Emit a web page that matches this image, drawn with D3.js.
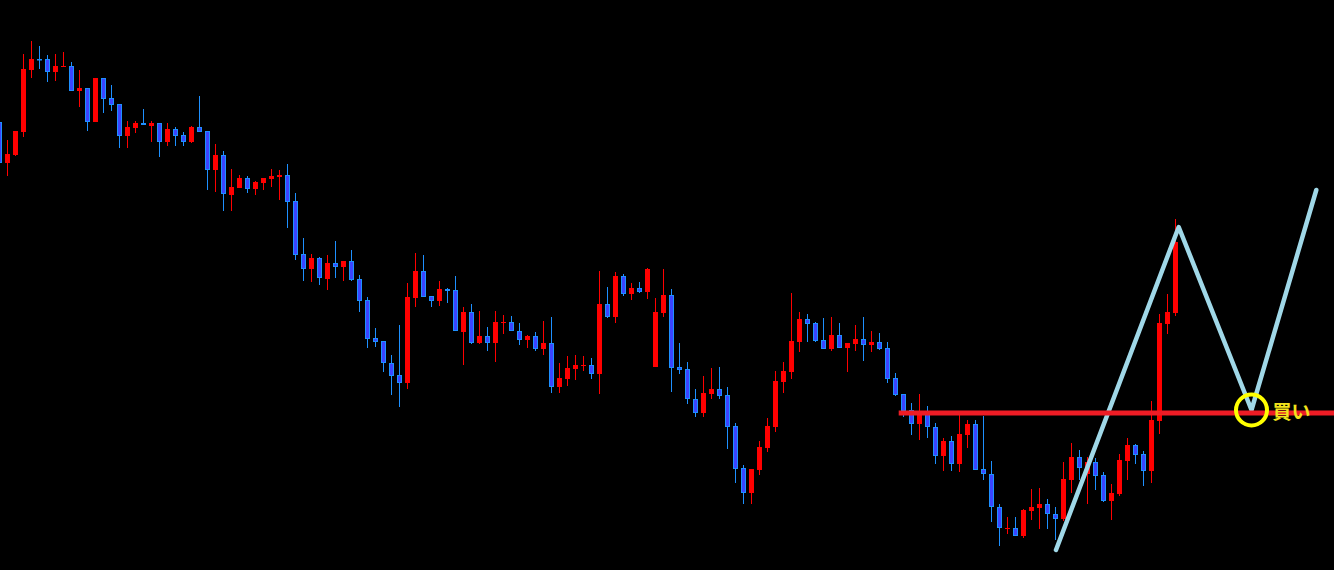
<!DOCTYPE html>
<html>
<head>
<meta charset="utf-8">
<script src="https://cdn.jsdelivr.net/npm/d3@7"></script>
<style>
  html, body { margin: 0; padding: 0; background: #000; overflow: hidden; }
</style>
</head>
<body>
<div id="chart"></div>
<script>
// OHLC per bar (price units)
var open = [115.98,115.57,115.65,115.88,116.50,116.61,116.61,116.48,116.53,116.54,
  116.29,116.32,115.98,116.42,116.22,116.16,115.84,115.92,115.97,115.94,
  115.97,115.78,115.91,115.85,115.78,115.93,115.89,115.50,115.65,115.25,
  115.32,115.42,115.31,115.37,115.41,115.43,115.45,115.19,114.66,114.51,
  114.62,114.41,114.57,114.53,114.59,114.41,114.20,113.82,113.79,113.57,
  113.45,113.37,114.22,114.49,114.24,114.19,114.31,114.30,113.88,114.08,
  113.77,113.84,113.77,113.97,113.98,113.89,113.80,113.84,113.71,113.77,
  113.33,113.41,113.51,113.54,113.55,113.46,114.16,114.03,114.44,114.26,
  114.32,114.28,113.53,114.07,114.25,113.53,113.51,113.21,113.07,113.26,
  113.31,113.25,112.94,112.52,112.27,112.50,112.72,112.93,113.38,113.48,
  113.78,114.01,113.97,113.80,113.71,113.85,113.72,113.76,113.81,113.75,
  113.78,113.72,113.42,113.26,113.10,112.96,113.07,112.93,112.64,112.79,
  112.56,112.85,112.96,112.51,112.46,112.13,111.91,111.92,111.84,112.09,
  112.12,112.16,112.06,112.01,112.40,112.63,112.46,112.58,112.45,112.19,
  112.26,112.59,112.75,112.66,112.49,112.99,113.96,114.07];
var high = [116.02,115.80,115.89,116.66,116.79,116.74,116.65,116.66,116.68,116.58,
  116.50,116.32,116.42,116.42,116.35,116.16,115.99,115.99,116.11,115.99,
  115.97,115.97,115.93,115.88,115.94,116.24,115.89,115.76,115.69,115.51,
  115.45,115.44,115.39,115.42,115.51,115.50,115.56,115.27,114.82,114.66,
  114.63,114.65,114.79,114.59,114.70,114.45,114.23,113.92,113.79,113.65,
  113.95,114.37,114.67,114.65,114.24,114.39,114.32,114.44,114.13,114.16,
  114.09,113.93,114.09,114.05,114.04,113.97,113.85,113.88,113.99,114.03,
  113.57,113.64,113.65,113.64,113.62,114.49,114.33,114.48,114.46,114.37,
  114.38,114.52,114.22,114.51,114.31,113.77,113.58,113.31,113.44,113.52,
  113.53,113.33,112.97,112.55,112.51,112.79,113.02,113.49,113.58,114.27,
  114.08,114.06,113.98,114.02,114.03,113.97,113.77,113.95,114.03,113.89,
  113.87,113.78,113.47,113.26,113.17,113.26,113.14,112.97,112.82,112.84,
  113.06,113.00,113.00,113.04,112.59,112.16,112.03,112.03,112.11,112.31,
  112.32,112.21,112.13,112.58,112.77,112.70,112.63,112.62,112.48,112.36,
  112.66,112.82,112.76,112.69,113.19,114.06,114.26,115.01];
var low = [115.52,115.44,115.64,115.83,116.42,116.51,116.38,116.39,116.53,116.29,
  116.13,115.89,115.98,116.07,116.09,115.72,115.72,115.87,115.95,115.78,
  115.63,115.74,115.74,115.74,115.77,115.88,115.30,115.28,115.09,115.09,
  115.32,115.27,115.25,115.30,115.33,115.20,114.92,114.60,114.39,114.38,
  114.35,114.30,114.42,114.39,114.39,114.08,113.72,113.73,113.48,113.25,
  113.13,113.31,114.13,114.23,114.13,114.14,114.17,113.89,113.55,113.76,
  113.76,113.69,113.58,113.86,113.89,113.75,113.72,113.69,113.65,113.27,
  113.27,113.34,113.40,113.49,113.41,113.26,114.02,113.97,114.24,114.20,
  114.27,114.21,113.53,114.03,113.28,113.46,113.16,113.03,113.03,113.21,
  113.21,112.71,112.37,112.16,112.16,112.45,112.68,112.88,113.27,113.41,
  113.68,113.78,113.78,113.71,113.69,113.72,113.48,113.69,113.59,113.68,
  113.70,113.37,113.24,113.03,112.85,112.80,112.82,112.56,112.49,112.49,
  112.48,112.72,112.50,112.40,111.98,111.74,111.86,111.84,111.82,112.00,
  111.91,111.91,111.80,111.99,112.27,112.40,112.16,112.30,112.18,112.00,
  112.24,112.40,112.56,112.34,112.37,112.86,113.86,114.04];
var close = [115.57,115.66,115.89,116.51,116.61,116.60,116.48,116.54,116.54,116.29,
  116.32,115.98,116.42,116.21,116.15,115.84,115.93,115.97,115.95,115.97,
  115.78,115.91,115.84,115.78,115.93,115.88,115.50,115.65,115.26,115.33,
  115.42,115.31,115.38,115.42,115.44,115.45,115.18,114.65,114.51,114.62,
  114.42,114.57,114.53,114.59,114.40,114.19,113.81,113.78,113.57,113.44,
  113.37,114.23,114.49,114.23,114.19,114.31,114.29,113.89,114.08,113.77,
  113.84,113.77,113.98,113.98,113.89,113.80,113.84,113.71,113.77,113.33,
  113.42,113.52,113.55,113.55,113.46,114.16,114.03,114.44,114.26,114.32,
  114.28,114.51,114.08,114.25,113.52,113.50,113.21,113.07,113.27,113.31,
  113.24,112.93,112.51,112.27,112.51,112.73,112.94,113.39,113.49,113.79,
  114.01,113.96,113.79,113.71,113.85,113.72,113.77,113.81,113.75,113.78,
  113.71,113.41,113.25,113.09,112.96,113.08,112.93,112.64,112.79,112.56,
  112.86,112.96,112.50,112.46,112.13,111.92,111.92,111.84,112.10,112.13,
  112.16,112.06,112.01,112.41,112.63,112.52,112.58,112.44,112.19,112.27,
  112.60,112.75,112.65,112.49,113.00,113.97,114.08,114.78];

// drawn overlays: support level, zigzag projection and buy point
var levelPrice = 113.07, levelStart = 112.4;
var zigzag = [[132.06, 111.70], [147.4, 114.93], [156.5, 113.10], [164.6, 115.30]];
var buyPoint = [156.5, 113.10];
var buyLabel = "買い";

var width = 1334, height = 570;

var svg = d3.select("#chart").append("svg")
  .attr("width", width)
  .attr("height", height)
  .style("display", "block")
  .style("background", "#000");

var x = d3.scaleLinear().domain([0, 147]).range([-0.5, 1175.5]);
var y = d3.scaleLinear().domain([110, 117.2]).range([720, 0]);

var bars = d3.range(open.length).map(function(i) {
  return { i: i, o: open[i], h: high[i], l: low[i], c: close[i], up: close[i] >= open[i] };
});

var candles = svg.append("g").selectAll("g")
  .data(bars)
  .enter().append("g");

candles.append("line")
  .attr("x1", function(d) { return x(d.i); })
  .attr("x2", function(d) { return x(d.i); })
  .attr("y1", function(d) { return y(d.h); })
  .attr("y2", function(d) { return y(d.l); })
  .attr("stroke", function(d) { return d.up ? "#ff0000" : "#1e90ff"; })
  .attr("stroke-width", 1);

candles.append("rect")
  .attr("x", function(d) { return d.up ? x(d.i) - 2.5 : x(d.i) - 2; })
  .attr("width", function(d) { return d.up ? 5 : 4; })
  .attr("y", function(d) {
    var t = y(Math.max(d.o, d.c));
    return d.up ? t : t + 0.5;
  })
  .attr("height", function(d) {
    var hh = Math.abs(y(d.o) - y(d.c));
    return d.up ? Math.max(hh, 1) : Math.max(hh - 1, 0.5);
  })
  .attr("fill", function(d) { return d.up ? "#ff0000" : "#3b44ff"; })
  .attr("stroke", function(d) { return d.up ? "none" : "#1e90ff"; })
  .attr("stroke-width", 1);

// zigzag projection
var zz = d3.line()
  .x(function(d) { return x(d[0]); })
  .y(function(d) { return y(d[1]); });

svg.append("path")
  .attr("d", zz(zigzag))
  .attr("fill", "none")
  .attr("stroke", "#a0d8e8")
  .attr("stroke-width", 4.5)
  .attr("stroke-linejoin", "round")
  .attr("stroke-linecap", "round");

// horizontal level
svg.append("line")
  .attr("x1", x(levelStart))
  .attr("x2", width)
  .attr("y1", y(levelPrice))
  .attr("y2", y(levelPrice))
  .attr("stroke", "#ee1c25")
  .attr("stroke-width", 5);

// buy marker
svg.append("circle")
  .attr("cx", x(buyPoint[0]))
  .attr("cy", y(buyPoint[1]))
  .attr("r", 15.5)
  .attr("fill", "none")
  .attr("stroke", "#ffff00")
  .attr("stroke-width", 4);

svg.append("text")
  .attr("x", x(buyPoint[0]) + 21)
  .attr("y", y(buyPoint[1]) + 9)
  .attr("fill", "#f2e21c")
  .style("font-family", "'Noto Sans CJK JP', sans-serif")
  .style("font-weight", "bold")
  .style("font-size", "19px")
  .text(buyLabel);
</script>
</body>
</html>
